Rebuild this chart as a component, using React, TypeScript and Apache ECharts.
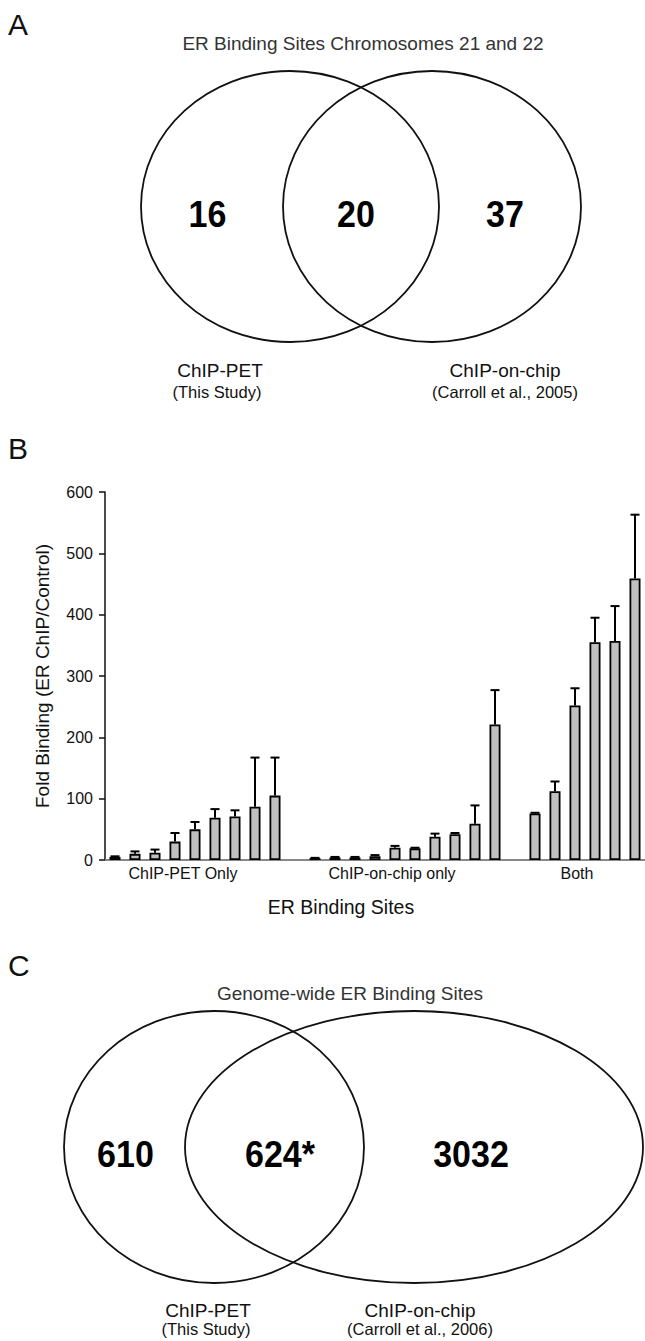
import React, { useEffect, useRef } from "react";
import * as echarts from "echarts";

// ---------- DATA ----------
// Panel A: Venn counts (ChIP-PET only, both, ChIP-on-chip only)
const vennACounts = ["16", "20", "37"];
const vennATitle = "ER Binding Sites Chromosomes 21 and 22";
const vennALabels = ["ChIP-PET", "ChIP-on-chip"];
const vennASubLabels = ["(This Study)", "(Carroll et al., 2005)"];

// Panel B: fold binding bars (upper error only)
const petOnlyValues = [5, 10, 12, 30, 50, 69, 71, 87, 105];
const petOnlyErrors = [1, 4, 5, 14, 12, 14, 10, 80, 62];
const chipOnlyValues = [3, 4, 4, 6, 20, 19, 38, 42, 59, 221];
const chipOnlyErrors = [0.5, 1, 1, 2, 3, 1, 5, 2, 30, 56];
const bothValues = [76, 112, 252, 355, 357, 459];
const bothErrors = [1, 16, 28, 40, 57, 104];
const groupNames = ["ChIP-PET Only", "ChIP-on-chip only", "Both"];
const yTicks = [0, 100, 200, 300, 400, 500, 600];
const yAxisTitle = "Fold Binding (ER ChIP/Control)";
const xAxisTitle = "ER Binding Sites";

// Panel C: Venn counts
const vennCCounts = ["610", "624*", "3032"];
const vennCTitle = "Genome-wide ER Binding Sites";
const vennCLabels = ["ChIP-PET", "ChIP-on-chip"];
const vennCSubLabels = ["(This Study)", "(Carroll et al., 2006)"];

const panelLetters = ["A", "B", "C"];

const FONT = "'Liberation Sans', Arial, Helvetica, sans-serif";

export default function App() {
  const ref = useRef<HTMLDivElement>(null);

  useEffect(() => {
    document.body.style.margin = "0";
    if (!ref.current) return;
    const chart = echarts.init(ref.current, null, { renderer: "svg" });

    // build bar categories with one empty slot between groups
    const cats: string[] = [];
    const vals: any[] = [];
    const errs: any[] = [];
    const labelAt: Record<number, { text: string; pad: number[] }> = {};
    const groups = [
      [petOnlyValues, petOnlyErrors],
      [chipOnlyValues, chipOnlyErrors],
      [bothValues, bothErrors],
    ];
    const labelIdxOffset = [3, 4, 2];
    const labelPads = [
      [0, 0, 0, 16],
      [0, 6, 0, 0],
      [0, 0, 0, 4],
    ];
    groups.forEach((g, gi) => {
      if (gi > 0) {
        cats.push("gap" + gi);
        vals.push("-");
      }
      const start = cats.length;
      labelAt[start + labelIdxOffset[gi]] = { text: groupNames[gi], pad: labelPads[gi] };
      (g[0] as number[]).forEach((v, i) => {
        cats.push("g" + gi + "_" + i);
        vals.push(v);
        errs.push([cats.length - 1, v, (g[1] as number[])[i]]);
      });
    });

    const txt = (text: string, x: number, y: number, size: number, opts: any = {}) => ({
      type: "text",
      x,
      y,
      rotation: opts.rotation || 0,
      scaleX: opts.scaleX || 1,
      silent: true,
      style: {
        text,
        fontSize: size,
        fontFamily: FONT,
        fontWeight: opts.bold ? "bold" : "normal",
        fill: opts.fill || "#111",
        align: opts.align || "center",
        verticalAlign: "middle",
      },
    });
    const num = (text: string, x: number, y: number) =>
      txt(text, x, y, 37, { bold: true, fill: "#000", scaleX: 0.92 });
    const ell = (cx: number, cy: number, rx: number, ry: number) => ({
      type: "ellipse",
      silent: true,
      shape: { cx, cy, rx, ry },
      style: { fill: "none", stroke: "#111", lineWidth: 1.8 },
    });

    const graphic: any[] = [
      // panel letters
      txt(panelLetters[0], 8, 24, 30, { align: "left" }),
      txt(panelLetters[1], 8, 448, 30, { align: "left" }),
      txt(panelLetters[2], 8, 965, 30, { align: "left" }),
      // Panel A
      txt(vennATitle, 363, 43, 19, { fill: "#333" }),
      ell(290, 206.5, 149, 135.5),
      ell(432, 206.5, 149, 135.5),
      num(vennACounts[0], 207.5, 215),
      num(vennACounts[1], 356, 215),
      num(vennACounts[2], 505, 215),
      txt(vennALabels[0], 220, 370, 19),
      txt(vennASubLabels[0], 217, 392, 16.5),
      txt(vennALabels[1], 505, 370, 19),
      txt(vennASubLabels[1], 505, 392, 16.5),
      // Panel B axis titles
      txt(yAxisTitle, 42, 676, 19, { rotation: Math.PI / 2 }),
      txt(xAxisTitle, 341, 907, 19.5),
      // Panel C
      txt(vennCTitle, 350, 993, 19, { fill: "#333" }),
      ell(214, 1147, 150, 136),
      ell(414, 1147, 229, 136),
      num(vennCCounts[0], 125.5, 1155),
      num(vennCCounts[1], 280, 1155),
      num(vennCCounts[2], 471, 1155),
      txt(vennCLabels[0], 208, 1310, 19),
      txt(vennCSubLabels[0], 206, 1329, 16.5),
      txt(vennCLabels[1], 420, 1310, 19),
      txt(vennCSubLabels[1], 420, 1329, 16.5),
    ];

    chart.setOption({
      animation: false,
      backgroundColor: "#fff",
      graphic,
      grid: { left: 105, top: 492, width: 540, height: 368, containLabel: false },
      xAxis: {
        type: "category",
        data: cats,
        axisLine: { show: true, lineStyle: { color: "#888", width: 2 } },
        axisTick: { show: false },
        axisLabel: {
          interval: (idx: number) => !!labelAt[idx],
          formatter: (_v: string, idx: number) => (labelAt[idx] ? "{a" + idx + "|" + labelAt[idx].text + "}" : ""),
          rich: Object.fromEntries(
            Object.keys(labelAt).map((k) => [
              "a" + k,
              { padding: labelAt[+k].pad, fontSize: 16, fontFamily: FONT, color: "#111" },
            ])
          ),
          margin: 5,
          fontSize: 16,
          fontFamily: FONT,
          color: "#111",
        },
      },
      yAxis: {
        type: "value",
        min: yTicks[0],
        max: yTicks[yTicks.length - 1],
        interval: yTicks[1] - yTicks[0],
        axisLine: { show: true, lineStyle: { color: "#111", width: 1.5 } },
        axisTick: { show: true, length: 6, lineStyle: { color: "#111", width: 1.5 } },
        splitLine: { show: false },
        axisLabel: { margin: 12, fontSize: 16, fontFamily: FONT, color: "#111" },
      },
      series: [
        {
          type: "bar",
          data: vals,
          barWidth: 11,
          itemStyle: { color: "#c0c0c0", borderColor: "#000", borderWidth: 1.8 },
          z: 2,
        },
        {
          type: "custom",
          data: errs,
          encode: { x: 0, y: 1 },
          z: 3,
          renderItem: (_params: any, api: any) => {
            const x = api.value(0);
            const v = api.value(1);
            const e = api.value(2);
            const p0 = api.coord([x, v]);
            const p1 = api.coord([x, v + e]);
            const st = { stroke: "#000", lineWidth: 2 };
            return {
              type: "group",
              children: [
                { type: "line", shape: { x1: p0[0], y1: p0[1], x2: p1[0], y2: p1[1] }, style: st },
                { type: "line", shape: { x1: p1[0] - 4.5, y1: p1[1], x2: p1[0] + 4.5, y2: p1[1] }, style: st },
              ],
            };
          },
        },
      ],
    });

    return () => chart.dispose();
  }, []);

  return <div ref={ref} style={{ width: 645, height: 1341 }} />;
}
